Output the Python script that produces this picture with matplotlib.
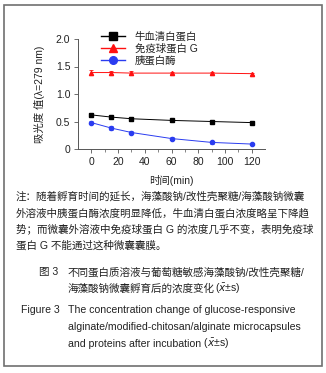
import numpy as np
import matplotlib
matplotlib.use('Agg')
import matplotlib.pyplot as plt
from matplotlib.patches import Rectangle

plt.rcParams['font.family'] = ['Liberation Sans', 'Noto Sans CJK SC', 'DejaVu Sans']
plt.rcParams['axes.unicode_minus'] = False

# 数据
t = [0, 15, 30, 60, 90, 120]
bsa = [0.62, 0.58, 0.55, 0.52, 0.50, 0.48]
bsa_err = [0.04, 0.04, 0.04, 0.03, 0.03, 0.03]
igg = [1.39, 1.39, 1.38, 1.38, 1.38, 1.37]
igg_err = [0.04, 0.03, 0.03, 0.02, 0.02, 0.02]
tryp = [0.48, 0.38, 0.30, 0.19, 0.12, 0.09]
tryp_err = [0.03, 0.03, 0.03, 0.03, 0.02, 0.02]
names = ['牛血清白蛋白', '免疫球蛋白 G', '胰蛋白酶']

note_lines = ['注：随着孵育时间的延长，海藻酸钠/改性壳聚糖/海藻酸钠微囊',
              '外溶液中胰蛋白酶浓度明显降低，牛血清白蛋白浓度略呈下降趋',
              '势；而微囊外溶液中免疫球蛋白 G 的浓度几乎不变，表明免疫球',
              '蛋白 G 不能通过这种微囊囊膜。']
cap_cn = ['不同蛋白质溶液与葡萄糖敏感海藻酸钠/改性壳聚糖/',
          '海藻酸钠微囊孵育后的浓度变化']
cap_en = ['The concentration change of glucose-responsive',
          'alginate/modified-chitosan/alginate microcapsules',
          'and proteins after incubation']
stat = r'($\bar{x}$±s)'

W, H = 326, 373
fig = plt.figure(figsize=(W / 100, H / 100), dpi=100)
fig.patch.set_facecolor('white')

def px(x, y):
    return x / W, 1 - y / H

ax = fig.add_axes([78 / W, 1 - 149 / H, (265 - 78) / W, (149 - 39) / H])
for s in ['top', 'right']:
    ax.spines[s].set_visible(False)
for s in ['left', 'bottom']:
    ax.spines[s].set_color('#555555')
    ax.spines[s].set_linewidth(0.7)

series = [(bsa, bsa_err, 'black', 's'), (igg, igg_err, '#ff1010', '^'), (tryp, tryp_err, '#2a3cf0', 'o')]
handles = []
for (vals, err, c, m), nm in zip(series, names):
    ax.errorbar(t, vals, yerr=err, color=c, marker=m, ms=3, lw=0.7,
                elinewidth=0.6, capsize=1.5, capthick=0.6)
    h, = ax.plot([], [], color=c, marker=m, ms=5.5, lw=1.0, label=nm)
    handles.append(h)

ax.set_xlim(-10, 130)
ax.set_ylim(0, 2.0)
ax.set_xticks([0, 20, 40, 60, 80, 100, 120])
ax.set_xticks(np.arange(10, 130, 20), minor=True)
ax.set_yticks([0, 0.5, 1.0, 1.5, 2.0])
ax.set_yticklabels(['0', '0.5', '1.0', '1.5', '2.0'])
ax.tick_params(axis='both', which='major', labelsize=7.5, length=3, width=0.6,
               color='#555555', labelcolor='#222222', pad=2.5)
ax.tick_params(axis='x', which='minor', length=2, width=0.5, color='#555555')
ax.set_xlabel('时间(min)', fontsize=7.5, color='#222222', labelpad=6)
ax.set_ylabel('吸光度 值(λ=279 nm)', fontsize=7.5, color='#222222', labelpad=8)

fig.legend(handles=handles, loc='upper left', bbox_to_anchor=px(96, 26),
           frameon=False, fontsize=7.5, handlelength=2.3, handletextpad=0.9,
           labelspacing=0.15, borderpad=0, labelcolor='#222222')

# 注释和图题
fs = 7.6
ys = [196, 213, 229, 245]
for y, line in zip(ys, note_lines):
    fig.text(*px(16, y), line, fontsize=fs, va='center', ha='left', color='#222222')

fig.text(*px(39, 272), '图 3', fontsize=fs, va='center', color='#222222')
fig.text(*px(68, 272), cap_cn[0], fontsize=fs, va='center', color='#222222')
c2 = fig.text(*px(68, 289), cap_cn[1], fontsize=fs, va='center', color='#222222')
fig.text(*px(21, 310), 'Figure 3', fontsize=7.6, va='center', color='#222222')
en = []
for y, line in zip([310, 327, 344], cap_en):
    en.append(fig.text(*px(68, y), line, fontsize=7.6, va='center', color='#222222'))

# (x̄±s) 接在文字后面
fig.canvas.draw()
ax.annotate(stat, xy=(1, 0.5), xycoords=c2, va='center', ha='left',
            fontsize=fs, color='#222222', annotation_clip=False)
ax.annotate(' ' + stat, xy=(1, 0.5), xycoords=en[-1], va='center', ha='left',
            fontsize=7.6, color='#222222', annotation_clip=False)

# 外框
fig.patches.append(Rectangle(px(4, 366), (322 - 4) / W, (366 - 5) / H,
                             transform=fig.transFigure, fill=False,
                             edgecolor='#707070', lw=1.2))

fig.savefig('out.png', dpi=100)
